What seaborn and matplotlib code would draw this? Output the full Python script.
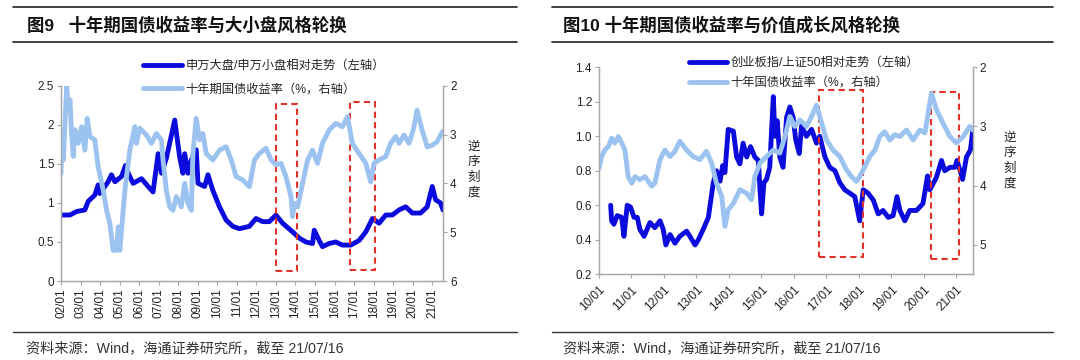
import pandas as pd
import seaborn as sns
import matplotlib.pyplot as plt
import matplotlib.transforms as mtransforms
from matplotlib.lines import Line2D
from matplotlib.patches import Rectangle

# ---- Fig 9: large/small cap ratio vs 10y yield (decimal years) ----
size_years = [2002.00, 2002.46, 2002.80, 2003.22, 2003.39, 2003.73, 2003.90, 2003.99,
              2004.41, 2004.58, 2004.76, 2005.10, 2005.30, 2005.44, 2005.69, 2006.12,
              2006.46, 2006.71, 2006.97, 2007.14, 2007.39, 2007.82, 2008.07, 2008.24,
              2008.33, 2008.50, 2008.67, 2008.92, 2009.01, 2009.35, 2009.52, 2009.77,
              2010.11, 2010.45, 2010.79, 2011.13, 2011.64, 2011.98, 2012.32, 2012.66,
              2013.00, 2013.34, 2013.85, 2014.19, 2014.53, 2014.87, 2014.96, 2015.21,
              2015.38, 2015.72, 2016.06, 2016.40, 2016.83, 2017.26, 2017.60, 2017.94,
              2018.28, 2018.62, 2018.96, 2019.30, 2019.64, 2019.98, 2020.40, 2020.74,
              2021.00, 2021.17, 2021.42, 2021.55]
size_ratio = [0.845, 0.845, 0.89, 0.91, 1.02, 1.10, 1.23, 1.12,
              1.27, 1.36, 1.27, 1.34, 1.48, 1.38, 1.25, 1.31,
              1.21, 1.14, 1.63, 1.38, 1.57, 2.06, 1.59, 1.38,
              1.63, 1.38, 1.55, 1.68, 1.25, 1.21, 1.36, 1.16,
              0.95, 0.78, 0.70, 0.67, 0.70, 0.80, 0.76, 0.76,
              0.845, 0.74, 0.63, 0.55, 0.50, 0.48, 0.65, 0.52,
              0.44, 0.48, 0.50, 0.46, 0.46, 0.52, 0.63, 0.80,
              0.74, 0.845, 0.845, 0.91, 0.95, 0.87, 0.87, 0.95,
              1.21, 1.04, 1.00, 0.91]

yield9_years = [2002.00, 2002.03, 2002.12, 2002.29, 2002.37, 2002.46, 2002.54, 2002.63,
                2002.71, 2002.88, 2003.05, 2003.22, 2003.34, 2003.48, 2003.73, 2003.90,
                2004.16, 2004.33, 2004.50, 2004.67, 2004.84, 2004.93, 2005.01, 2005.27,
                2005.52, 2005.78, 2005.86, 2006.03, 2006.37, 2006.63, 2006.88, 2007.14,
                2007.22, 2007.39, 2007.56, 2007.73, 2007.90, 2008.16, 2008.33, 2008.50,
                2008.67, 2008.75, 2008.92, 2009.09, 2009.26, 2009.43, 2009.77, 2010.11,
                2010.45, 2010.71, 2010.96, 2011.30, 2011.64, 2011.90, 2012.15, 2012.49,
                2012.75, 2013.00, 2013.26, 2013.51, 2013.77, 2013.85, 2013.94, 2014.11,
                2014.36, 2014.62, 2014.87, 2015.13, 2015.38, 2015.72, 2016.06, 2016.40,
                2016.66, 2016.91, 2017.26, 2017.60, 2017.85, 2018.02, 2018.28, 2018.62,
                2018.87, 2019.13, 2019.30, 2019.55, 2019.81, 2020.05, 2020.22, 2020.48,
                2020.74, 2021.00, 2021.24, 2021.52]
yield9 = [3.80, 3.04, 3.52, 2.00, 2.50, 2.29, 2.98, 3.45,
          2.90, 3.18, 2.84, 3.32, 2.67, 3.04, 3.11, 3.66,
          4.14, 4.55, 4.82, 5.37, 5.37, 4.89, 5.37, 4.14,
          3.32, 2.84, 3.18, 2.87, 3.01, 3.18, 2.98, 3.11,
          3.52, 4.14, 4.48, 4.55, 4.27, 4.48, 4.00, 4.41,
          4.55, 3.39, 2.67, 3.11, 2.98, 3.39, 3.52, 3.32,
          3.25, 3.52, 3.86, 3.93, 4.07, 3.52, 3.39, 3.28,
          3.52, 3.62, 3.59, 3.86, 4.27, 4.68, 4.41, 4.48,
          4.00, 3.52, 3.32, 3.59, 3.18, 2.91, 2.77, 2.84,
          2.63, 3.18, 3.39, 3.59, 3.97, 3.59, 3.52, 3.45,
          3.18, 3.04, 3.18, 3.01, 3.18, 2.87, 2.50, 2.91,
          3.25, 3.22, 3.15, 2.94]

# ---- Fig 10: ChiNext/SSE50 ratio vs 10y yield ----
growth_years = [2010.36, 2010.39, 2010.46, 2010.56, 2010.70, 2010.77, 2010.87, 2010.97,
                2011.08, 2011.18, 2011.26, 2011.39, 2011.57, 2011.72, 2011.88, 2011.98,
                2012.06, 2012.19, 2012.34, 2012.49, 2012.70, 2012.80, 2012.96, 2013.06,
                2013.21, 2013.37, 2013.52, 2013.62, 2013.73, 2013.81, 2013.88, 2013.98,
                2014.14, 2014.24, 2014.34, 2014.44, 2014.55, 2014.67, 2014.80, 2014.91,
                2014.96, 2015.01, 2015.08, 2015.16, 2015.26, 2015.37, 2015.42, 2015.49,
                2015.57, 2015.67, 2015.78, 2015.88, 2015.98, 2016.06, 2016.17, 2016.24,
                2016.39, 2016.55, 2016.70, 2016.80, 2016.96, 2017.11, 2017.27, 2017.42,
                2017.57, 2017.73, 2017.88, 2018.03, 2018.14, 2018.29, 2018.45, 2018.60,
                2018.75, 2018.91, 2019.06, 2019.18, 2019.27, 2019.42, 2019.57, 2019.78,
                2019.98, 2020.12, 2020.19, 2020.39, 2020.55, 2020.65, 2020.81, 2020.96,
                2021.03, 2021.20, 2021.32, 2021.44, 2021.52]
growth_ratio = [0.60, 0.51, 0.49, 0.54, 0.53, 0.42, 0.60, 0.59,
                0.53, 0.53, 0.46, 0.42, 0.50, 0.47, 0.51, 0.46,
                0.37, 0.43, 0.38, 0.42, 0.45, 0.42, 0.37, 0.40,
                0.46, 0.53, 0.73, 0.80, 0.74, 0.83, 0.79, 1.04,
                1.03, 0.88, 0.84, 0.96, 0.88, 0.94, 0.88, 0.86,
                0.69, 0.55, 0.73, 0.75, 0.82, 1.23, 1.00, 1.09,
                0.88, 0.82, 1.11, 1.17, 1.11, 0.98, 0.90, 1.06,
                1.00, 1.04, 0.96, 1.00, 0.88, 0.82, 0.80, 0.73,
                0.69, 0.67, 0.65, 0.51, 0.69, 0.67, 0.63, 0.55,
                0.57, 0.53, 0.54, 0.65, 0.57, 0.51, 0.57, 0.57,
                0.61, 0.77, 0.69, 0.76, 0.86, 0.80, 0.82, 0.82,
                0.86, 0.75, 0.88, 0.92, 1.04]

yield10_years = [2010.00, 2010.08, 2010.18, 2010.29, 2010.39, 2010.49, 2010.60, 2010.70,
                 2010.80, 2010.90, 2011.01, 2011.11, 2011.26, 2011.42, 2011.62, 2011.72,
                 2011.88, 2012.03, 2012.19, 2012.34, 2012.49, 2012.70, 2012.90, 2013.11,
                 2013.31, 2013.47, 2013.62, 2013.78, 2013.88, 2013.98, 2014.14, 2014.34,
                 2014.55, 2014.70, 2014.80, 2014.96, 2015.16, 2015.37, 2015.57, 2015.73,
                 2015.88, 2016.03, 2016.19, 2016.39, 2016.55, 2016.70, 2016.80, 2017.01,
                 2017.21, 2017.42, 2017.62, 2017.78, 2017.93, 2018.03, 2018.19, 2018.34,
                 2018.50, 2018.65, 2018.80, 2018.96, 2019.11, 2019.27, 2019.47, 2019.68,
                 2019.88, 2020.04, 2020.24, 2020.40, 2020.60, 2020.81, 2021.01, 2021.22,
                 2021.42, 2021.52]
yield10 = [3.71, 3.51, 3.40, 3.34, 3.20, 3.28, 3.17, 3.28,
           3.40, 3.85, 3.96, 3.85, 3.90, 3.85, 4.01, 3.96,
           3.56, 3.40, 3.51, 3.42, 3.25, 3.40, 3.51, 3.56,
           3.42, 3.62, 3.96, 4.18, 4.69, 4.41, 4.30, 4.07,
           4.13, 4.24, 3.85, 3.62, 3.51, 3.40, 3.45, 3.17,
           2.83, 3.00, 2.89, 3.00, 2.83, 2.64, 2.83, 3.23,
           3.40, 3.51, 3.73, 3.85, 3.93, 3.85, 3.68, 3.51,
           3.40, 3.17, 3.09, 3.23, 3.14, 3.17, 3.06, 3.23,
           3.06, 3.11, 2.44, 2.72, 2.95, 3.17, 3.28, 3.17,
           3.00, 3.06]

# highlighted periods (start, end)
boxes9 = [(2013.00, 2014.07), (2016.80, 2018.05)]
boxes10 = [(2016.78, 2018.12), (2020.22, 2021.08)]

DARK = '#0B0BDD'
LIGHT = '#9CC3F0'
RED = '#E0312B'
GREY = '#A6A6A6'

sns.set_theme(style='white')
plt.rcParams['font.family'] = ['Liberation Sans', 'Noto Sans CJK SC']
plt.rcParams['axes.unicode_minus'] = False

fig = plt.figure(figsize=(10.8, 3.6), dpi=100)


def px(x, y):
    return x / 1080, 1 - y / 360


def style_axes(ax, ax2):
    for a in (ax, ax2):
        for s in a.spines.values():
            s.set_color(GREY)
            s.set_linewidth(0.9)
        a.spines['top'].set_visible(False)
        a.tick_params(direction='out', length=3, width=0.8, color=GREY,
                      labelsize=8.5, labelcolor='#222222', pad=2)
    ax.tick_params(axis='x', bottom=True)
    ax.tick_params(axis='y', left=True)
    ax2.tick_params(axis='y', right=True)
    ax.set_xlabel('')
    ax.set_ylabel('')
    ax2.set_ylabel('')


def draw_boxes(ax, boxes, yspans):
    trans = mtransforms.blended_transform_factory(ax.transData, ax.transAxes)
    for (x0, x1), (y0, y1) in zip(boxes, yspans):
        ax.add_patch(Rectangle((x0, y0), x1 - x0, y1 - y0, transform=trans,
                               fill=False, edgecolor=RED, lw=1.5,
                               linestyle=(0, (3, 2)), zorder=5, clip_on=False))


LW = 3.5

# ---------------- left panel ----------------
ax = fig.add_axes([0.0565, 0.2194, 0.3537, 0.5425])
ax2 = ax.twinx()
d1 = pd.DataFrame({'year': size_years, 'val': size_ratio})
d2 = pd.DataFrame({'year': yield9_years, 'val': yield9})
sns.lineplot(data=d1, x='year', y='val', ax=ax, color=DARK, lw=LW, legend=False)
sns.lineplot(data=d2, x='year', y='val', ax=ax2, color=LIGHT, lw=LW, legend=False)
ax.set_xlim(2002.0, 2021.55)
ax.set_ylim(0, 2.5)
ax2.set_ylim(6, 2)
ax.set_yticks([0, 0.5, 1, 1.5, 2, 2.5])
ax.set_yticklabels(['0', '0.5', '1', '1.5', '2', '2.5'])
ax2.set_yticks([2, 3, 4, 5, 6])
yrs = list(range(2002, 2022))
ax.set_xticks(yrs)
ax.set_xticklabels([f'{y % 100:02d}/01' for y in yrs], rotation=90)
style_axes(ax, ax2)
draw_boxes(ax, boxes9, [(0.053, 0.904), (0.058, 0.915)])
h = [Line2D([], [], color=DARK, lw=LW), Line2D([], [], color=LIGHT, lw=LW)]
ax.legend(h, ['申万大盘/申万小盘相对走势（左轴）', '十年期国债收益率（%，右轴）'],
          loc='upper left', bbox_to_anchor=px(143, 60), bbox_transform=fig.transFigure,
          frameon=False, fontsize=8.8, handlelength=3.2, handletextpad=0.3,
          labelspacing=0.95, borderpad=0, borderaxespad=0)
fig.text(*px(474, 170), '逆\n序\n刻\n度', ha='center', va='center',
         fontsize=9, linespacing=1.35, color='#222222')

# ---------------- right panel ----------------
bx = fig.add_axes([0.5546, 0.2381, 0.3463, 0.575])
bx2 = bx.twinx()
d3 = pd.DataFrame({'year': growth_years, 'val': growth_ratio})
d4 = pd.DataFrame({'year': yield10_years, 'val': yield10})
sns.lineplot(data=d3, x='year', y='val', ax=bx, color=DARK, lw=LW, legend=False)
sns.lineplot(data=d4, x='year', y='val', ax=bx2, color=LIGHT, lw=LW, legend=False)
bx.set_xlim(2010.0, 2021.52)
bx.set_ylim(0.2, 1.4)
bx2.set_ylim(5.5, 2)
bx.set_yticks([0.2, 0.4, 0.6, 0.8, 1.0, 1.2, 1.4])
bx.set_yticklabels(['0.2', '0.4', '0.6', '0.8', '1.0', '1.2', '1.4'])
bx2.set_yticks([2, 3, 4, 5])
yrs2 = list(range(2010, 2022))
bx.set_xticks(yrs2)
bx.set_xticklabels([f'{y % 100:02d}/01' for y in yrs2], rotation=45,
                   ha='right', rotation_mode='anchor')
style_axes(bx, bx2)
bx.tick_params(axis='x', pad=4)
draw_boxes(bx, boxes10, [(0.085, 0.891), (0.0725, 0.879)])
bx.legend(h, ['创业板指/上证50相对走势（左轴）', '十年国债收益率（%，右轴）'],
          loc='upper left', bbox_to_anchor=px(689, 57), bbox_transform=fig.transFigure,
          frameon=False, fontsize=8.8, handlelength=3.1, handletextpad=0.3,
          labelspacing=0.65, borderpad=0, borderaxespad=0)
fig.text(*px(1010, 161), '逆\n序\n刻\n度', ha='center', va='center',
         fontsize=9, linespacing=1.35, color='#222222')

# ---------------- headers and footers ----------------
for x0, x1 in [(13, 517), (552, 1053)]:
    for y, lw in [(7, 1.3), (42, 1.3), (332, 1.0)]:
        fig.add_artist(Line2D([x0 / 1080, x1 / 1080], [1 - y / 360] * 2,
                              color='#333333', lw=lw))

fig.text(*px(27, 25), '图9   十年期国债收益率与大小盘风格轮换', ha='left', va='center',
         fontsize=12.5, fontweight='bold', color='#111111')
fig.text(*px(563, 25), '图10 十年期国债收益率与价值成长风格轮换', ha='left', va='center',
         fontsize=12.5, fontweight='bold', color='#111111')
fig.text(*px(26, 348), '资料来源：Wind，海通证券研究所，截至 21/07/16', ha='left',
         va='center', fontsize=10.2, color='#333333')
fig.text(*px(563, 348), '资料来源：Wind，海通证券研究所，截至 21/07/16', ha='left',
         va='center', fontsize=10.2, color='#333333')

fig.savefig('out.png', dpi=100)
